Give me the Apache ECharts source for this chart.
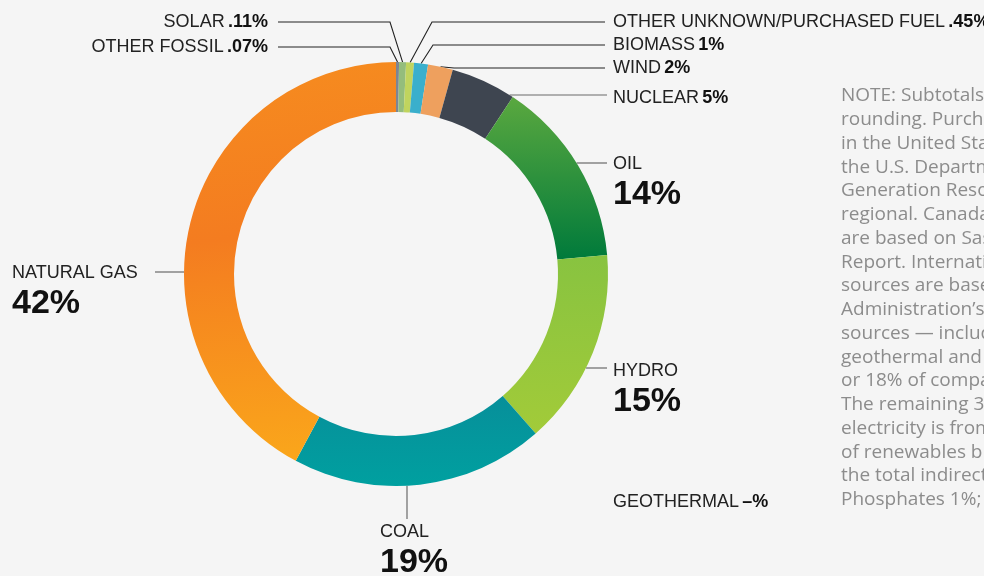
<!DOCTYPE html>
<html>
<head>
<meta charset="utf-8">
<script src="https://cdn.jsdelivr.net/npm/echarts@6/dist/echarts.min.js"></script>
<style>
html,body{margin:0;padding:0;background:#f5f5f5;}
#main{width:984px;height:576px;}
</style>
</head>
<body>
<div id="main"></div>
<script>
// ---- data ----
const categories = ['OTHER FOSSIL','SOLAR','OTHER UNKNOWN/PURCHASED FUEL','BIOMASS','WIND','NUCLEAR','OIL','HYDRO','GEOTHERMAL','COAL','NATURAL GAS'];
const values = [0.23, 0.53, 0.6, 1.06, 1.9, 4.97, 14.3, 15, 0, 19.3, 42.2];
const valueLabels = ['.07%','.11%','.45%','1%','2%','5%','14%','15%','–%','19%','42%'];
const noteLines = [
  'NOTE: Subtotals may not',
  'rounding. Purchased',
  'in the United States',
  'the U.S. Department',
  'Generation Resource',
  'regional. Canada',
  'are based on Sask',
  'Report. International',
  'sources are based',
  'Administration’s',
  'sources — including',
  'geothermal and',
  'or 18% of company',
  'The remaining 3',
  'electricity is from',
  'of renewables b',
  'the total indirect',
  'Phosphates 1%;'
];

// ---- styles ----
const G = (a, b) => new echarts.graphic.LinearGradient(0, 0, 0, 1, [{offset:0,color:a},{offset:1,color:b}]);
const colors = [
  '#7d8593', '#94bd7c', '#c0d45e', '#3aafcc', '#eea05e', '#3e4550',
  G('#5aa83f', '#007a3b'),
  G('#88c340', '#a2cb39'),
  '#cccccc',
  G('#078f9a', '#00a0a0'),
  new echarts.graphic.LinearGradient(0, 0, 0.2, 1, [{offset:0,color:'#f68c1f'},{offset:0.45,color:'#f47c20'},{offset:1,color:'#faa51b'}])
];
const bigLabel = [false,false,false,false,false,false,true,true,false,true,true];
const CX = 396, CY = 274, R_OUT = 212, R_IN = 162;

// label layout positions (layout only)
const layout = [
  {x:268, y:47, align:'right', mode:'diag', elbow:[390,47], end:[278,47]},
  {x:268, y:22, align:'right', mode:'diag', elbow:[390,22], end:[278,22]},
  {x:613, y:22, align:'left', mode:'diag', elbow:[432,22], end:[605,22]},
  {x:613, y:45, align:'left', mode:'diag', elbow:[433,45], end:[605,45]},
  {x:613, y:68, align:'left', mode:'diag', elbow:[454,68], end:[605,68]},
  {x:613, y:98, align:'left', mode:'hr', ly:95, end:607},
  {x:613, y:153, align:'left', mode:'hr', ly:163, end:607, top:true},
  {x:613, y:360, align:'left', mode:'hr', ly:368, end:607, top:true},
  {x:613, y:502, align:'left', mode:'none'},
  {x:380, y:521, align:'left', mode:'vb', lx:407, end:519, top:true},
  {x:12, y:262, align:'left', mode:'hl', ly:272, end:155, top:true}
];

const data = categories.map((name, i) => ({
  name: name,
  value: values[i],
  itemStyle: {color: colors[i]},
  label: {
    formatter: bigLabel[i] ? '{n|' + name + '}\n{b|' + valueLabels[i] + '}' : '{n|' + name + '} {v|' + valueLabels[i] + '}'
  },
  labelLine: {show: layout[i].mode !== 'none', lineStyle: {color: bigLabel[i] || i === 5 ? '#6a6a6a' : '#222', width: bigLabel[i] ? 1.2 : 1.1}}
}));

const chart = echarts.init(document.getElementById('main'), null, {renderer:'canvas'});
chart.setOption({
  backgroundColor: '#f5f5f5',
  animation: false,
  graphic: [{
    type: 'text',
    left: 841,
    top: 84,
    style: {
      text: noteLines.join('\n'),
      font: '19px "Open Sans"',
      fill: '#8c8c8c',
      lineHeight: 23.75
    }
  }],
  series: [{
    type: 'pie',
    center: [CX, CY],
    radius: [R_IN, R_OUT],
    startAngle: 90,
    clockwise: true,
    avoidLabelOverlap: false,
    minShowLabelAngle: 0,
    stillShowZeroSum: true,
    label: {
      show: true,
      position: 'outside',
      fontFamily: 'Liberation Sans',
      rich: {
        n: {fontFamily:'Liberation Sans', fontSize:18, color:'#222', lineHeight:22},
        v: {fontFamily:'Liberation Sans', fontSize:18, fontWeight:'bold', color:'#111'},
        b: {fontFamily:'Liberation Sans', fontSize:34, fontWeight:'bold', color:'#111', lineHeight:40}
      }
    },
    labelLine: {show: true, length: 10, length2: 10},
    labelLayout: function (p) {
      const L = layout[p.dataIndex];
      const out = {x: L.x, y: L.y, align: L.align, verticalAlign: L.top ? 'top' : 'middle'};
      if (L.mode === 'diag') {
        const a = p.labelLinePoints ? p.labelLinePoints[0] : [CX, CY - R_OUT];
        out.labelLinePoints = [a, L.elbow, L.end];
      } else if (L.mode === 'hr' || L.mode === 'hl') {
        const dx = Math.sqrt(R_OUT * R_OUT - (L.ly - CY) * (L.ly - CY));
        const sx = L.mode === 'hr' ? CX + dx : CX - dx;
        out.labelLinePoints = [[sx, L.ly], [(sx + L.end) / 2, L.ly], [L.end, L.ly]];
      } else if (L.mode === 'vb') {
        const dy = Math.sqrt(R_OUT * R_OUT - (L.lx - CX) * (L.lx - CX));
        const sy = CY + dy;
        out.labelLinePoints = [[L.lx, sy], [L.lx, (sy + L.end) / 2], [L.lx, L.end]];
      }
      return out;
    },
    emphasis: {disabled: true},
    data: data
  }]
});
</script>
</body>
</html>
